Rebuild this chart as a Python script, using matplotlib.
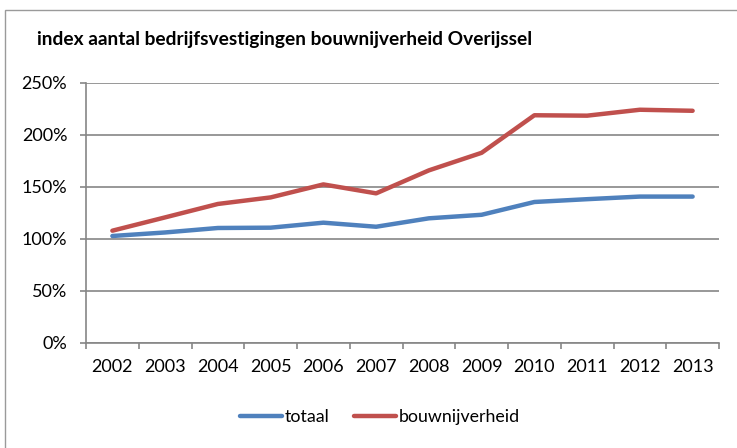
import matplotlib
matplotlib.use("Agg")
import matplotlib.pyplot as plt
from matplotlib.patches import Rectangle
from matplotlib.ticker import FixedLocator, PercentFormatter

years = ["2002", "2003", "2004", "2005", "2006", "2007", "2008", "2009", "2010", "2011", "2012", "2013"]
totaal = [102.6, 106.0, 110.3, 110.6, 115.4, 111.5, 119.6, 123.0, 135.3, 138.0, 140.5, 140.5]
bouwnijverheid = [107.7, 120.5, 133.4, 139.7, 152.2, 143.6, 165.7, 182.6, 218.7, 218.3, 224.0, 223.0]
title = "index aantal bedrijfsvestigingen bouwnijverheid Overijssel"

plt.rcParams['font.family'] = ['Lato', 'DejaVu Sans']

W, H = 737, 448
fig = plt.figure(figsize=(W / 100, H / 100), dpi=100)
ax = fig.add_axes([86 / W, 1 - 342.7 / H, (719 - 86) / W, (342.7 - 82.7) / H])

grid_c = '#868686'
x = list(range(len(years)))
ax.plot(x, totaal, color='#4F81BD', lw=3.2, label='totaal', solid_capstyle='round', zorder=3)
ax.plot(x, bouwnijverheid, color='#C0504D', lw=3.2, label='bouwnijverheid', solid_capstyle='round', zorder=3)

ax.set_xlim(-0.5, len(years) - 0.5)
ax.set_ylim(0, 250)
ax.set_yticks([0, 50, 100, 150, 200, 250])
ax.yaxis.set_major_formatter(PercentFormatter(decimals=0))
ax.set_xticks(x)
ax.set_xticklabels(years)
ax.xaxis.set_minor_locator(FixedLocator([i - 0.5 for i in range(len(years) + 1)]))

ax.yaxis.grid(True, color=grid_c, lw=1.2)
ax.set_axisbelow(True)
for s in ['top', 'right']:
    ax.spines[s].set_visible(False)
for s in ['left', 'bottom']:
    ax.spines[s].set_color(grid_c)
    ax.spines[s].set_linewidth(1.2)

ax.tick_params(axis='x', which='major', length=0, pad=12, labelsize=13, colors='black')
ax.tick_params(axis='x', which='minor', length=4.5, width=1.2, color=grid_c, direction='out')
ax.tick_params(axis='y', length=4.5, width=1.2, color=grid_c, pad=9, labelsize=13, labelcolor='black')

fig.text(37 / W, 1 - 40 / H, title, fontsize=13.8, fontweight='bold', va='center', ha='left')

fig.legend(loc='center', bbox_to_anchor=(380 / W, 1 - 417 / H), ncol=2, frameon=False,
           fontsize=12.8, handlelength=2.35, handletextpad=0.17, columnspacing=1.35)

fig.add_artist(Rectangle((5 / W, -0.1), 1.2, 1.1 - 10 / H, transform=fig.transFigure,
                         fill=False, edgecolor='#9a9a9a', lw=1.0, clip_on=False))

fig.savefig('out.png', dpi=100)
